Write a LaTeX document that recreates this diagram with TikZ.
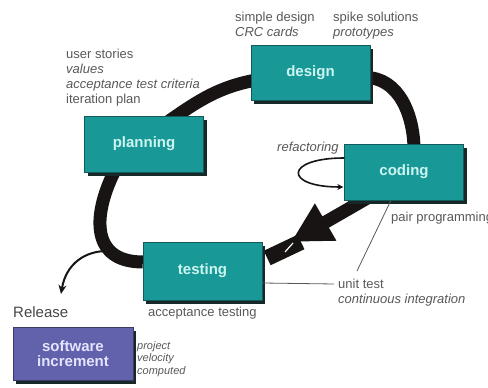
\documentclass[tikz,border=0pt]{standalone}
\usepackage{fontspec}
\setmainfont{Liberation Sans}
\usepackage{tikz}
\usetikzlibrary{arrows.meta, positioning, shadows, backgrounds}

\definecolor{xpteal}{RGB}{24,152,150}
\definecolor{xpedge}{RGB}{20,90,90}
\definecolor{xpshadow}{RGB}{22,40,40}
\definecolor{xptext}{RGB}{205,245,240}
\definecolor{xppurple}{RGB}{98,98,172}
\definecolor{xplilac}{RGB}{228,228,255}
\definecolor{xpgray}{RGB}{88,88,88}
\definecolor{xpband}{RGB}{24,20,20}

\begin{document}
\begin{tikzpicture}[x=1pt, y=1pt,
    phase/.style={draw=xpedge, fill=xpteal, text=xptext, minimum width=119pt, minimum height=56pt,
      font=\fontsize{15}{17}\selectfont\bfseries, align=center,
      drop shadow={shadow xshift=3pt, shadow yshift=-4pt, fill=xpshadow, opacity=1}},
    note/.style={text=xpgray, font=\fontsize{13}{15}\selectfont, align=left, inner sep=0pt},
    band/.style={draw=xpband, line width=13pt},
    thinline/.style={draw=xpgray, line width=0.8pt}]
  \useasboundingbox (0,0) rectangle (488,388);

  % the four phases
  \node[phase] (planning) at (144,244) {planning};
  \node[phase, minimum height=55pt] (design) at (310.5,315.5) {design};
  \node[phase] (coding) at (404,216) {coding};
  \node[phase, minimum height=58pt] (testing) at (202.5,117) {testing};
  \node[phase, fill=xppurple, text=xplilac, draw=xppurple!60!black, minimum width=120pt,
        minimum height=53pt] (increment) at (73,34.5) {software\\[-2pt]increment};

  % labels
  \node[note, anchor=north west] (planlbl) at (66,339)
    {user stories\\ \textit{values}\\ \textit{acceptance test criteria}\\ iteration plan};
  \node[note, anchor=north west] (designlbl) at (235,376) {simple design\\ \textit{CRC cards}};
  \node[note, anchor=north west] (spikelbl) at (333,376) {spike solutions\\ \textit{prototypes}};
  \node[note, anchor=west] (refaclbl) at (277,240) {\textit{refactoring}};
  \node[note, anchor=west] (pairlbl) at (391,170) {pair programming};
  \node[note, anchor=north west] (unitlbl) at (338,109) {unit test\\ \textit{continuous integration}};
  \node[note, anchor=west] (acclbl) at (148,75) {acceptance testing};
  \node[note, anchor=west, text=xpgray!80!black, font=\fontsize{15}{17}\selectfont] (releaselbl) at (13,76) {Release};
  \node[note, anchor=north west, font=\fontsize{11}{12.5}\selectfont\itshape] (velolbl) at (137,47)
    {project\\ velocity\\ computed};

  \draw[thinline] ([xshift=-13pt]coding.south) -- ([xshift=19pt,yshift=8pt]unitlbl.north west);
  \draw[thinline] ([yshift=-12pt]testing.east) -- ([xshift=-4pt,yshift=-5pt]unitlbl.north west);

  % refactoring loop
  \draw[draw=xpband, line width=1.6pt, -{Stealth[length=6pt,width=6pt]}]
    ([yshift=14pt]coding.west) .. controls +(-60,0) and +(-60,0) .. ([xshift=-1pt,yshift=-15pt]coding.west);

  % the cycle
  \coordinate (tip) at (291,146);
  \coordinate (relpt) at (110,137);
  \begin{scope}[on background layer]
    \draw[band] ([xshift=24pt,yshift=-6pt]planning.north) to[out=35,in=190] ([xshift=8pt,yshift=-7pt]design.west);
    \draw[band] ([xshift=-5pt,yshift=-5pt]design.east) to[out=0,in=90] ([xshift=10pt,yshift=-6pt]coding.north);
    \draw[band, line width=16pt] ([xshift=10pt]tip) -- ([xshift=5pt,yshift=13pt]testing.east);
    \draw[white, line width=1.2pt] ([xshift=2pt,yshift=-1pt]tip) -- ++(-8,-9);
    \draw[band, -{Triangle[length=40pt,width=40pt]}] ([xshift=-30pt,yshift=6pt]coding.south) -- (tip);
    \draw[band] ([yshift=9pt]testing.west) .. controls +(-51,0) and +(-22,-45) .. ([xshift=-30pt]planning.south);
    \draw[draw=xpband, line width=2pt, -{Stealth[length=9pt,width=8pt]}]
      (relpt) .. controls (85,138) and (66,124) .. (61,94);
  \end{scope}
\end{tikzpicture}
\end{document}
